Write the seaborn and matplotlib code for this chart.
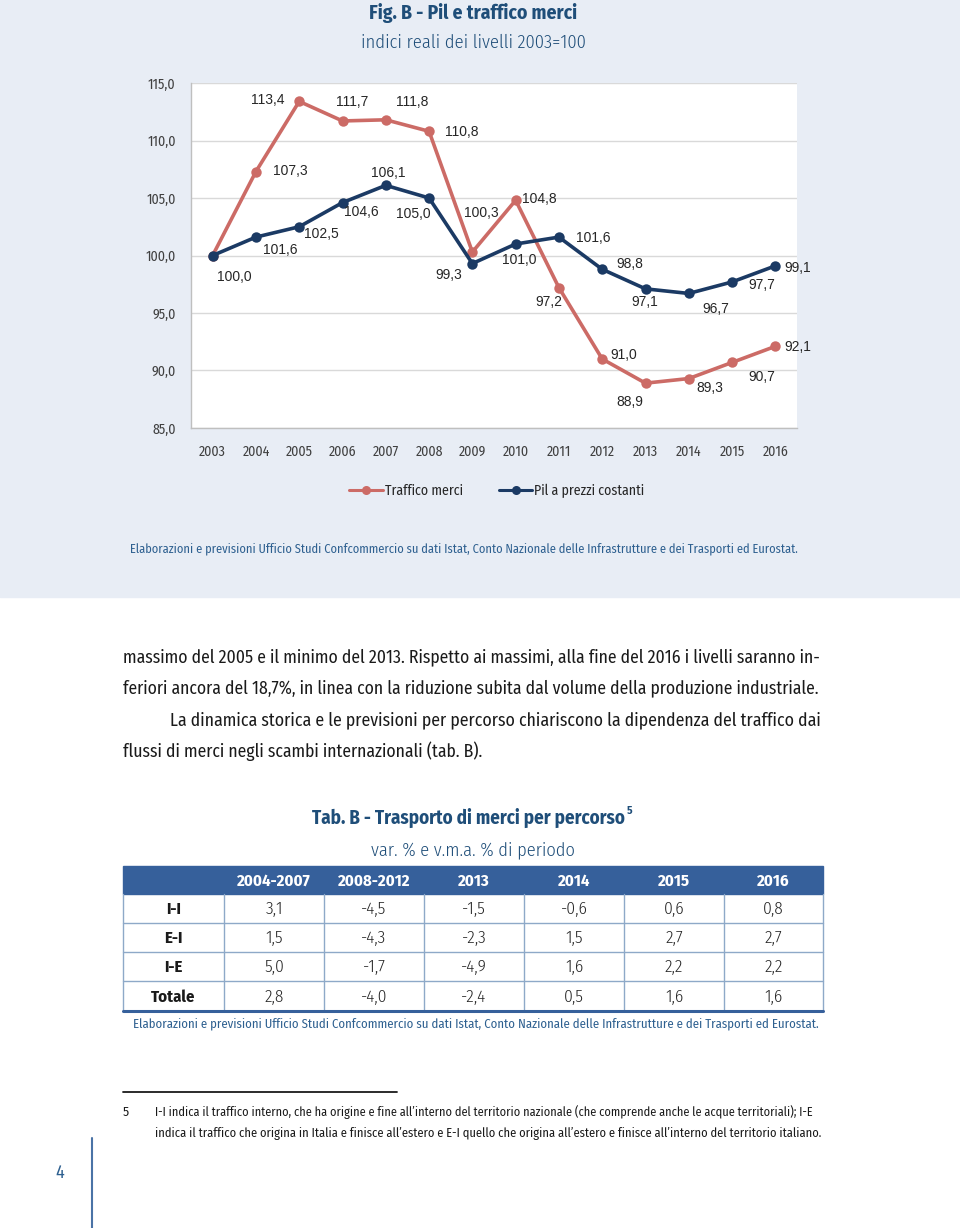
import matplotlib
matplotlib.use("Agg")
import numpy as np
import pandas as pd
import matplotlib.pyplot as plt
import seaborn as sns
from matplotlib import font_manager
from matplotlib.lines import Line2D
from matplotlib.patches import Rectangle

# Dati del grafico (indici 2003=100)
anni = list(range(2003, 2017))
traffico = [100.0, 107.3, 113.4, 111.7, 111.8, 110.8, 100.3, 104.8, 97.2, 91.0, 88.9, 89.3, 90.7, 92.1]
pil = [100.0, 101.6, 102.5, 104.6, 106.1, 105.0, 99.3, 101.0, 101.6, 98.8, 97.1, 96.7, 97.7, 99.1]
serie = ["Traffico merci", "Pil a prezzi costanti"]
y_ticks = [85, 90, 95, 100, 105, 110, 115]

# Tabella B
tab_cols = ["2004-2007", "2008-2012", "2013", "2014", "2015", "2016"]
tab_rows = ["I-I", "E-I", "I-E", "Totale"]
tab_ii = [3.1, -4.5, -1.5, -0.6, 0.6, 0.8]
tab_ei = [1.5, -4.3, -2.3, 1.5, 2.7, 2.7]
tab_ie = [5.0, -1.7, -4.9, 1.6, 2.2, 2.2]
tab_tot = [2.8, -4.0, -2.4, 0.5, 1.6, 1.6]

# spostamento etichette (pixel)
off_traffico = [None, (34, 1), (-31, 1), (10, 19), (26, 18), (33, -1), (9, 39),
                (24, 1), (-10, -14), (22, 4), (-16, -19), (21, -9), (30, -15), (22, -1)]
off_pil = [(22, -21), (24, -13), (22, -7), (19, -9), (2, 12), (-16, -16), (-24, -11),
           (4, -16), (34, -1), (28, 5), (-1, -13), (27, -16), (30, -3), (22, -2)]

RED = "#CC6B66"
NAVY = "#1B3A64"
BG = "#E8EDF5"
TITLE = "#1F4E79"
SRC = "#2E6090"
HEAD = "#36609B"
GRIDL = "#8EA9C8"

sns.set_theme(style="whitegrid")
plt.rcParams["font.family"] = ["Liberation Sans", "DejaVu Sans"]

# font stretto per i testi della pagina (tipo Frutiger Condensed)
fl = font_manager.fontManager.ttflist
names = {f.name for f in fl}
pref = ["Fira Sans Condensed", "PT Sans Narrow", "Roboto Condensed", "Asap Condensed",
        "Archivo Narrow", "Liberation Sans Narrow", "Open Sans Condensed"]
scelta = next((n for n in pref if n in names), None)
if scelta:
    NARROW = dict(family=[scelta, "DejaVu Sans"])
elif any(f.name == "DejaVu Sans" and str(f.stretch) == "condensed" for f in fl):
    NARROW = dict(family="DejaVu Sans", stretch="condensed")
else:
    NARROW = dict(family="Roboto")

fig = plt.figure(figsize=(9.6, 12.28), dpi=100, facecolor="white")
renderer = fig.canvas.get_renderer()

ov = fig.add_axes([0, 0, 1, 1], zorder=0)
ov.set_xlim(0, 960)
ov.set_ylim(1228, 0)
ov.axis("off")
ov.add_patch(Rectangle((0, 0), 960, 597, color=BG, zorder=0))


def fit(t, width):
    w = t.get_window_extent(renderer).width
    t.set_fontsize(t.get_fontsize() * width / w)
    return t


def comma(v):
    return f"{v:.1f}".replace(".", ",")


# Titoli figura
fit(ov.text(473, 13, "Fig. B - Pil e traffico merci", ha="center", va="center",
            fontsize=14, weight="bold", color=TITLE, **NARROW), 208)
fit(ov.text(473, 43, "indici reali dei livelli 2003=100", ha="center", va="center",
            fontsize=13, weight=300, color=TITLE, **NARROW), 227)

# Grafico
ax = fig.add_axes([191 / 960, 1 - 428 / 1228, 606 / 960, 345 / 1228], zorder=2)
df = pd.DataFrame({
    "anno": anni * 2,
    "indice": traffico + pil,
    "serie": [serie[0]] * len(anni) + [serie[1]] * len(anni),
})
sns.lineplot(data=df, x="anno", y="indice", hue="serie", hue_order=serie,
             palette={serie[0]: RED, serie[1]: NAVY}, marker="o", markersize=7.5,
             markeredgewidth=0, linewidth=2.6, legend=False, ax=ax)

for vals, offs in [(traffico, off_traffico), (pil, off_pil)]:
    for a, v, o in zip(anni, vals, offs):
        if o is None:
            continue
        ax.annotate(comma(v), (a, v), xytext=o, textcoords="offset pixels",
                    ha="center", va="center", fontsize=10, color="#262626", zorder=5)

ax.set_facecolor("white")
ax.set_xlim(anni[0] - 0.5, anni[-1] + 0.5)
ax.set_ylim(85, 115)
ax.set_yticks(y_ticks)
ax.set_yticklabels([comma(v) for v in y_ticks])
ax.set_xticks(anni)
ax.set_xticklabels([str(a) for a in anni])
ax.set_xticks(np.arange(anni[0] - 0.5, anni[-1] + 0.6, 1), minor=True)
ax.set_xlabel("")
ax.set_ylabel("")
ax.grid(axis="x", visible=False)
ax.grid(axis="y", color="#D9D9D9", linewidth=1)
for s in ["top", "right"]:
    ax.spines[s].set_visible(False)
for s in ["left", "bottom"]:
    ax.spines[s].set_color("#BFBFBF")
    ax.spines[s].set_linewidth(1)
ax.tick_params(axis="y", length=4, width=1, color="#BFBFBF", direction="out",
               pad=7, labelcolor="#404040")
ax.tick_params(axis="x", which="major", length=0, pad=12, labelcolor="#404040")
ax.tick_params(axis="x", which="minor", length=5, width=1, color="#BFBFBF", direction="out")
for t in ax.get_xticklabels() + ax.get_yticklabels():
    t.set_fontproperties(font_manager.FontProperties(size=10, **NARROW))

handles = [Line2D([], [], color=RED, lw=2.2, marker="o", ms=6.5, mew=0),
           Line2D([], [], color=NAVY, lw=2.2, marker="o", ms=6.5, mew=0)]
leg = fig.legend(handles, serie, loc="center", bbox_to_anchor=(497 / 960, 1 - 491 / 1228),
                 ncol=2, frameon=False, handlelength=2.4, handletextpad=0.15,
                 columnspacing=2.6,
                 prop=font_manager.FontProperties(size=10, **NARROW))
for t in leg.get_texts():
    t.set_color("#262626")

src = "Elaborazioni e previsioni Ufficio Studi Confcommercio su dati Istat, Conto Nazionale delle Infrastrutture e dei Trasporti ed Eurostat."
fit(ov.text(130, 549, src, ha="left", va="center", fontsize=9.5, color=SRC, **NARROW), 667)

# Testo del corpo
body = [
    (123, 657, "massimo del 2005 e il minimo del 2013. Rispetto ai massimi, alla fine del 2016 i livelli saranno in-", 699),
    (123, 688, "feriori ancora del 18,7%, in linea con la riduzione subita dal volume della produzione industriale.", 699),
    (170, 720, "La dinamica storica e le previsioni per percorso chiariscono la dipendenza del traffico dai", 652),
    (123, 751, "flussi di merci negli scambi internazionali (tab. B).", None),
]
ref_size = None
for x, y, s, w in body:
    t = ov.text(x, y, s, ha="left", va="center", fontsize=12.5, color="#1A1A1A", **NARROW)
    if w is not None:
        fit(t, w)
        ref_size = t.get_fontsize() if ref_size is None else ref_size
    else:
        t.set_fontsize(ref_size)

# Titolo tabella
tt = fit(ov.text(312, 818, "Tab. B - Trasporto di merci per percorso", ha="left", va="center",
                 fontsize=14, weight="bold", color=TITLE, **NARROW), 314)
ov.text(627, 811, "5", ha="left", va="center", fontsize=8, weight="bold", color=TITLE, **NARROW)
fit(ov.text(473, 850, "var. % e v.m.a. % di periodo", ha="center", va="center",
            fontsize=13, weight=300, color=TITLE, **NARROW), 205)

# Tabella
xb = [123, 224, 324, 424, 524, 624, 724, 823]
yb = [866, 894, 923, 952, 981, 1011]
ov.add_patch(Rectangle((xb[0], yb[0]), xb[-1] - xb[0], yb[1] - yb[0], color=HEAD, zorder=2))
for j, c in enumerate(tab_cols):
    ov.text((xb[j + 1] + xb[j + 2]) / 2, (yb[0] + yb[1]) / 2 + 1, c, ha="center", va="center",
            fontsize=12, weight="bold", color="white", zorder=3, **NARROW)
righe = [tab_ii, tab_ei, tab_ie, tab_tot]
for i, (lab, vals) in enumerate(zip(tab_rows, righe)):
    yc = (yb[i + 1] + yb[i + 2]) / 2 + 1
    ov.text((xb[0] + xb[1]) / 2, yc, lab, ha="center", va="center", fontsize=12,
            weight="bold", color="#1A1A1A", **NARROW)
    for j, v in enumerate(vals):
        ov.text((xb[j + 1] + xb[j + 2]) / 2, yc, comma(v), ha="center", va="center",
                fontsize=12.5, weight=300, color="#262626", **NARROW)
for y in yb[2:-1]:
    ov.plot([xb[0], xb[-1]], [y, y], color=GRIDL, lw=1, zorder=2)
for x in xb:
    ov.plot([x, x], [yb[1], yb[-1]], color=GRIDL, lw=1, zorder=2)
ov.plot([xb[0], xb[-1]], [yb[-1], yb[-1]], color=HEAD, lw=2.2, zorder=3)

fit(ov.text(133, 1024, src, ha="left", va="center", fontsize=9.5, color=SRC, **NARROW), 685)

# Nota a piè di pagina
ov.plot([123, 397], [1092, 1092], color="#1A1A1A", lw=1.3)
ov.text(123, 1112, "5", ha="left", va="center", fontsize=9.5, color="#1A1A1A", **NARROW)
fit(ov.text(155, 1112, "I-I indica il traffico interno, che ha origine e fine all’interno del territorio nazionale (che comprende anche le acque territoriali); I-E",
            ha="left", va="center", fontsize=9, color="#1A1A1A", **NARROW), 657)
fit(ov.text(155, 1133, "indica il traffico che origina in Italia e finisce all’estero e E-I quello che origina all’estero e finisce all’interno del territorio italiano.",
            ha="left", va="center", fontsize=9, color="#1A1A1A", **NARROW), 668)

# Numero di pagina
ov.text(60, 1173, "4", ha="center", va="center", fontsize=13, color=SRC, **NARROW)
ov.plot([92, 92], [1138, 1228], color="#4A73A6", lw=1.5)

fig.savefig("out.png", dpi=100, facecolor="white")
